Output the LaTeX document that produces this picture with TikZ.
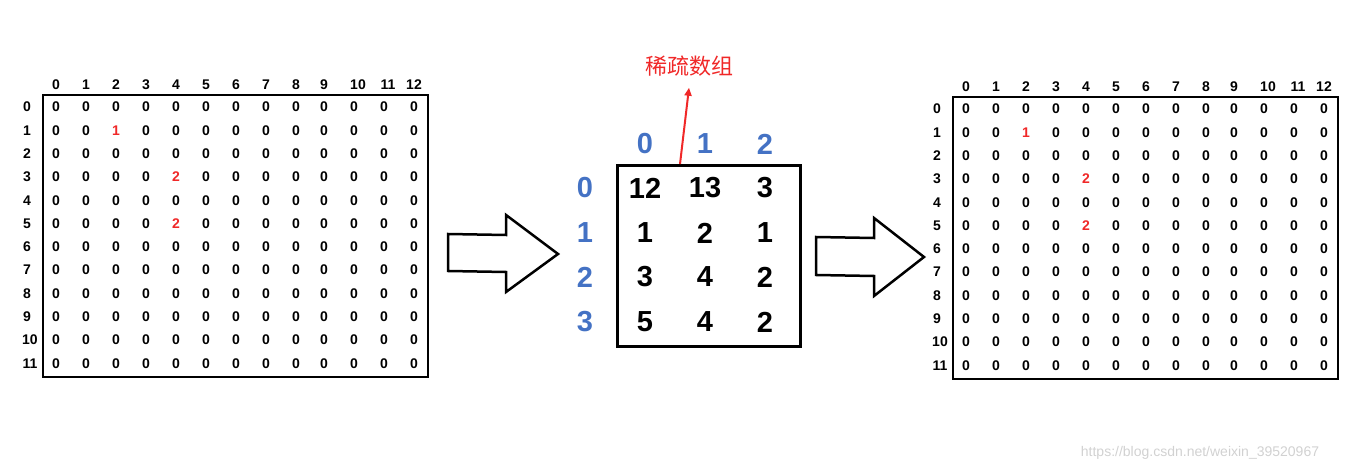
\documentclass[tikz,border=0pt]{standalone}
\usepackage{fontspec}
\setmainfont{Liberation Sans}
\newfontfamily\cjk{Noto Sans CJK SC}
\usetikzlibrary{arrows.meta}
\definecolor{idxblue}{RGB}{68,114,196}
\definecolor{hired}{RGB}{240,40,40}
\tikzset{
    cell/.style={font=\bfseries\fontsize{14}{14}\selectfont, inner sep=0pt},
    big/.style={font=\bfseries\fontsize{29}{29}\selectfont, inner sep=0pt},
    bigidx/.style={big, text=idxblue},
    hollow/.style={draw, line width=2.5pt, fill=white, line join=miter}
}
\begin{document}
\begin{tikzpicture}[x=1pt, y=-1pt]
\useasboundingbox (0,0) rectangle (1346,470);

% Two full matrices (left and right)
\foreach \m/\dx/\dy in {L/0/0, R/910/2} {
    \begin{scope}[shift={(\dx,\dy)}]
    \draw[line width=1.2pt] (43,95) rectangle (428,377);
    \foreach \c/\hx/\cx in {0/56/56,1/86/86,2/116/116,3/146/146,4/176/176,5/206/206,6/236/236,7/266/266,8/296/296,9/324/324,10/358/354,11/388/384,12/414/414} {
        \node[cell] (\m-h\c) at (\hx,85) {\c};
        \foreach \r in {0,...,11} {
            \node[cell] (\m-\r-\c) at (\cx,{107+23.3*\r}) {0};
        }
    }
    \foreach \r in {0,...,11} {
        \node[cell] (\m-v\r) at ({\r>9 ? 30 : 27},{107+23.3*\r}) {\r};
    }
    % non-zero values
    \node[cell, fill=white, text=hired, minimum size=13pt] at (\m-1-2) {1};
    \node[cell, fill=white, text=hired, minimum size=13pt] at (\m-3-4) {2};
    \node[cell, fill=white, text=hired, minimum size=13pt] at (\m-5-4) {2};
    \end{scope}
}

% Sparse array
\draw[line width=3pt] (617,166) rectangle (800,346);
\foreach \c/\x in {0/645,1/705,2/765} {
    \node[bigidx] (S-h\c) at (\x,144) {\c};
}
\foreach \r/\y/\a/\b/\d in {0/188/12/13/3, 1/233/1/2/1, 2/277/3/4/2, 3/322/5/4/2} {
    \node[bigidx] (S-v\r) at (585,\y) {\r};
    \node[big] (S-\r-0) at (645,\y) {\a};
    \node[big] (S-\r-1) at (705,\y) {\b};
    \node[big] (S-\r-2) at (765,\y) {\d};
}

% Label
\node[text=hired, font=\cjk\fontsize{22}{22}\selectfont] (title) at (689,66) {稀疏数组};
\coordinate (tail) at (680,164);
\draw[hired, line width=2pt, -{Triangle[length=8pt,width=7pt]}] (tail) -- ([yshift=-8pt]title.south);

% Hollow arrows
\draw[hollow] (448,234) -- (506,235) -- (506,215) -- (558,254) -- (506,292) -- (506,272) -- (448,271) -- cycle;
\draw[hollow] (816,237) -- (874,238) -- (874,218) -- (924,257) -- (874,296) -- (874,276) -- (816,275) -- cycle;

% Watermark
\node[text=black!18, font=\fontsize{14}{14}\selectfont] (mark) at (1200,453) {https://blog.csdn.net/weixin\_39520967};
\end{tikzpicture}
\end{document}
